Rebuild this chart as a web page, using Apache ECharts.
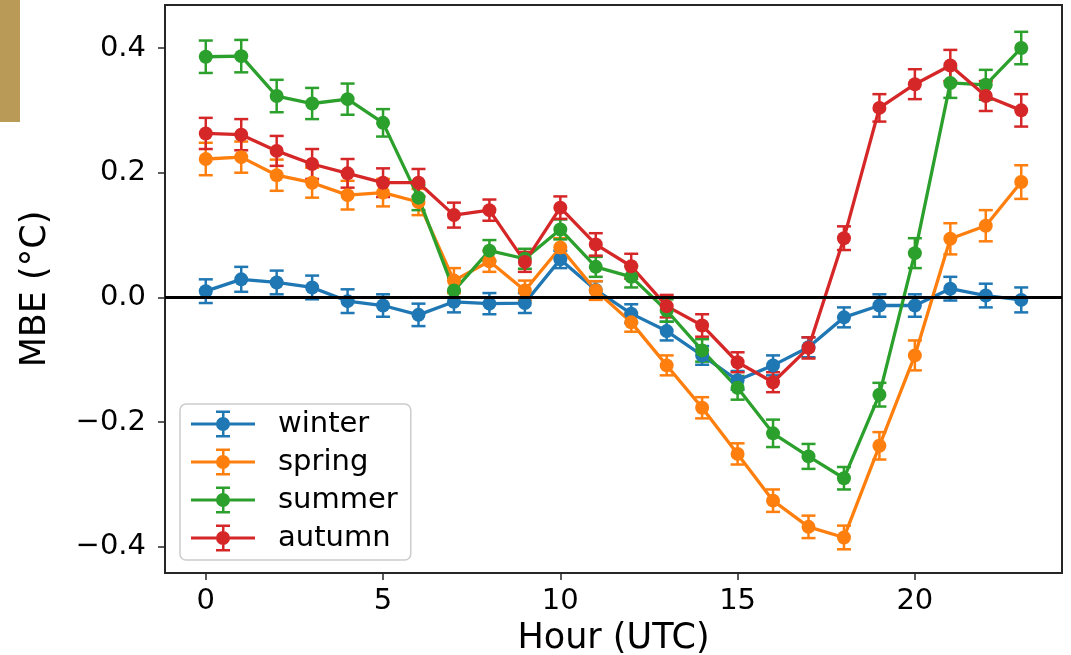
<!DOCTYPE html>
<html>
<head>
<meta charset="utf-8">
<script src="https://cdn.jsdelivr.net/npm/echarts@6/dist/echarts.min.js"></script>
<style>
html, body { margin: 0; padding: 0; background: #fff; }
#main { width: 1071px; height: 655px; }
</style>
</head>
<body>
<div id="main"></div>
<script>
var hours = [0,1,2,3,4,5,6,7,8,9,10,11,12,13,14,15,16,17,18,19,20,21,22,23];
var seasons = ["winter", "spring", "summer", "autumn"];
var colors = ["#1f77b4", "#ff7f0e", "#2ca02c", "#d62728"];
var xTicks = [0, 5, 10, 15, 20];
var yTicks = [-0.4, -0.2, 0.0, 0.2, 0.4];

var winter = [0.010, 0.029, 0.024, 0.016, -0.006, -0.013, -0.028, -0.007, -0.010, -0.009, 0.061, 0.012,
    -0.026, -0.054, -0.093, -0.133, -0.109, -0.080, -0.032, -0.013, -0.013, 0.014, 0.003, -0.004];
var spring = [0.222, 0.225, 0.196, 0.184, 0.164, 0.168, 0.153, 0.027, 0.058, 0.011, 0.080, 0.011,
    -0.040, -0.109, -0.177, -0.251, -0.326, -0.368, -0.385, -0.238, -0.093, 0.094, 0.115, 0.185];
var summer = [0.386, 0.387, 0.323, 0.311, 0.318, 0.280, 0.160, 0.011, 0.075, 0.062, 0.109, 0.049,
    0.033, -0.021, -0.085, -0.145, -0.218, -0.255, -0.290, -0.156, 0.071, 0.344, 0.341, 0.400];
var autumn = [0.263, 0.261, 0.235, 0.214, 0.199, 0.184, 0.184, 0.132, 0.140, 0.057, 0.144, 0.085,
    0.050, -0.014, -0.045, -0.104, -0.136, -0.081, 0.095, 0.304, 0.342, 0.372, 0.323, 0.300];

// half length of the error bars
var winterErr = [0.019, 0.020, 0.019, 0.019, 0.019, 0.018, 0.018, 0.017, 0.017, 0.016, 0.014, 0.014,
    0.015, 0.015, 0.015, 0.015, 0.016, 0.016, 0.016, 0.018, 0.018, 0.019, 0.019, 0.020];
var springErr = [0.026, 0.025, 0.025, 0.024, 0.023, 0.022, 0.021, 0.020, 0.017, 0.016, 0.015, 0.015,
    0.015, 0.016, 0.017, 0.017, 0.018, 0.018, 0.019, 0.022, 0.024, 0.025, 0.025, 0.027];
var summerErr = [0.026, 0.026, 0.026, 0.025, 0.025, 0.022, 0.020, 0.020, 0.017, 0.016, 0.016, 0.016,
    0.017, 0.018, 0.018, 0.019, 0.022, 0.020, 0.018, 0.019, 0.024, 0.024, 0.024, 0.026];
var autumnErr = [0.025, 0.025, 0.024, 0.024, 0.023, 0.023, 0.022, 0.020, 0.017, 0.016, 0.018, 0.018,
    0.020, 0.018, 0.018, 0.016, 0.016, 0.017, 0.019, 0.022, 0.024, 0.025, 0.024, 0.026];

var values = [winter, spring, summer, autumn];
var errs = [winterErr, springErr, summerErr, autumnErr];

var font = "DejaVu Sans";
var legendIcon = "path://M0 12h64v3h-64Z M31 1h2.5v25h-2.5Z M25 0h14v2.5h-14Z M25 24.5h14v2.5h-14Z " +
    "M39 13.5A7 7 0 1 1 25 13.5A7 7 0 1 1 39 13.5Z";

function renderErr(params, api) {
    var x = api.value(0);
    var top = api.coord([x, api.value(2)]);
    var bot = api.coord([x, api.value(1)]);
    var c = api.visual("color");
    var hw = 7;
    var st = { stroke: c, lineWidth: 2.5, fill: null };
    return {
        type: "group",
        children: [
            { type: "line", shape: { x1: top[0], y1: top[1], x2: bot[0], y2: bot[1] }, style: st },
            { type: "line", shape: { x1: top[0] - hw, y1: top[1], x2: top[0] + hw, y2: top[1] }, style: st },
            { type: "line", shape: { x1: bot[0] - hw, y1: bot[1], x2: bot[0] + hw, y2: bot[1] }, style: st }
        ]
    };
}

var series = [];
for (var s = 0; s < seasons.length; s++) {
    var errData = [];
    var lineData = [];
    for (var i = 0; i < hours.length; i++) {
        errData.push([hours[i], values[s][i] - errs[s][i], values[s][i] + errs[s][i]]);
        lineData.push([hours[i], values[s][i]]);
    }
    var errSeries = {
        name: seasons[s] + " err",
        type: "custom",
        renderItem: renderErr,
        itemStyle: { color: colors[s] },
        encode: { x: 0, y: [1, 2] },
        data: errData
    };
    if (s == 0) {
        errSeries.markLine = {
            silent: true,
            symbol: "none",
            label: { show: false },
            lineStyle: { color: "#000", width: 3, type: "solid" },
            data: [{ yAxis: 0 }]
        };
    }
    series.push(errSeries);
    series.push({
        name: seasons[s],
        type: "line",
        symbol: "circle",
        symbolSize: 14,
        lineStyle: { color: colors[s], width: 3.3 },
        itemStyle: { color: colors[s], borderWidth: 0 },
        data: lineData
    });
}

var myChart = echarts.init(document.getElementById("main"));
var option = {
    animation: false,
    backgroundColor: "#fff",
    textStyle: { fontFamily: font },
    graphic: [
        { type: "rect", left: 0, top: 0, shape: { width: 20, height: 122 }, style: { fill: "#b99a56" } }
    ],
    grid: {
        left: 165, right: 9, top: 5, bottom: 82,
        outerBoundsMode: "none",
        show: true, borderColor: "#262626", borderWidth: 2
    },
    legend: {
        data: seasons,
        orient: "vertical",
        left: 180,
        top: 404,
        icon: legendIcon,
        itemWidth: 64,
        itemHeight: 27,
        itemGap: 8,
        padding: [5, 13, 7, 11],
        borderColor: "#cccccc",
        borderWidth: 1.5,
        borderRadius: 6,
        backgroundColor: "rgba(255,255,255,0.8)",
        itemStyle: { borderWidth: 0 },
        textStyle: { fontFamily: font, fontSize: 29, color: "#000", lineHeight: 30, padding: [0, 0, 0, 18] }
    },
    xAxis: {
        type: "value",
        min: -1.15,
        max: 24.15,
        name: "Hour (UTC)",
        nameLocation: "middle",
        nameGap: 48,
        nameTextStyle: { fontFamily: font, fontSize: 35, color: "#000" },
        splitLine: { show: false },
        axisLine: { show: false, onZero: false },
        axisTick: { show: true, length: 7, lineStyle: { color: "#262626", width: 1.5 }, customValues: xTicks },
        axisLabel: { fontFamily: font, fontSize: 29, color: "#000", margin: 14, customValues: xTicks }
    },
    yAxis: {
        type: "value",
        min: -0.442,
        max: 0.469,
        name: "MBE (°C)",
        nameLocation: "middle",
        nameRotate: 90,
        nameGap: 112,
        nameTextStyle: { fontFamily: font, fontSize: 35, color: "#000" },
        splitLine: { show: false },
        axisLine: { show: false, onZero: false },
        axisTick: { show: true, length: 7, lineStyle: { color: "#262626", width: 1.5 }, customValues: yTicks },
        axisLabel: {
            fontFamily: font, fontSize: 29, color: "#000", margin: 19, customValues: yTicks,
            formatter: function (v) {
                return (v < 0 ? "\u2212" : "") + Math.abs(v).toFixed(1);
            }
        }
    },
    series: series
};
myChart.setOption(option);
</script>
</body>
</html>
